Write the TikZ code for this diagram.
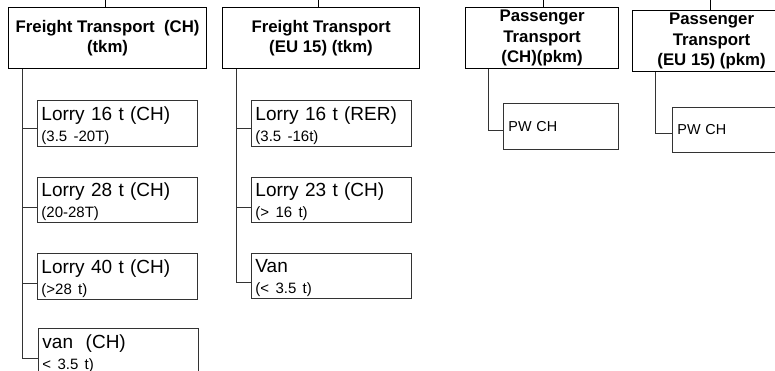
\documentclass[tikz,border=0pt]{standalone}
\usepackage{fontspec}
\setmainfont{Liberation Sans}
\usetikzlibrary{calc}
\tikzset{
  hdr/.style={draw=black, line width=1.1pt, anchor=north west, inner sep=0pt,
    align=center, font=\bfseries\fontsize{16.8}{20.5}\selectfont},
  child/.style={draw=black!80, line width=0.9pt, anchor=north west, inner xsep=4pt, inner ysep=0pt,
    align=left, font=\fontsize{19}{21}\selectfont},
  pw/.style={draw=black!80, line width=0.9pt, anchor=north west, inner xsep=5pt, inner ysep=0pt,
    align=left, font=\fontsize{14.4}{16}\selectfont},
  conn/.style={draw=black!80, line width=0.9pt},
  topl/.style={draw=black, line width=0.9pt}
}
\newcommand{\sm}[1]{{\fontsize{15}{21}\selectfont #1}}
\newcommand{\tp}{\rule{0pt}{17.5pt}}
\begin{document}
\begin{tikzpicture}[x=1pt,y=-1pt]
\useasboundingbox (0,0) rectangle (775,370);
\clip (0,0) rectangle (775,370);
% header boxes
\node[hdr, minimum width=198pt, minimum height=61pt] (A) at (8,7) {Freight Transport\ \ (CH)\\(tkm)};
\node[hdr, minimum width=197pt, minimum height=61pt] (B) at (222,7) {Freight Transport\\(EU 15) (tkm)};
\node[hdr, minimum width=153pt, minimum height=61pt] (C) at (465,7) {Passenger\\Transport\\(CH)(pkm)};
\node[hdr, minimum width=158pt, minimum height=61pt] (D) at (632,10) {Passenger\\Transport\\(EU 15) (pkm)};
% top lines
\coordinate (tA) at (105,0);
\coordinate (tB) at (318,0);
\coordinate (tC) at (543,0);
\coordinate (tD) at (710,0);
\draw[topl] (tA) -- (tA |- A.north);
\draw[topl] (tB) -- (tB |- B.north);
\draw[topl] (tC) -- (tC |- C.north);
\draw[topl] (tD) -- (tD |- D.north);
% children of A
\node[child, minimum width=160pt, minimum height=46pt, text width=152pt] (a1) at (37,100) {\tp Lorry 16 t (CH)\\\sm{(3.5 -20T)}};
\node[child, minimum width=160pt, minimum height=45pt, text width=152pt] (a2) at (37,177) {\tp Lorry 28 t (CH)\\\sm{(20-28T)}};
\node[child, minimum width=160pt, minimum height=46pt, text width=152pt] (a3) at (37,253) {\tp Lorry 40 t (CH)\\\sm{(>28 t)}};
\node[child, minimum width=160pt, minimum height=46pt, text width=152pt] (a4) at (38,328) {\tp van\ \ (CH)\\\sm{< 3.5 t)}};
% children of B
\node[child, minimum width=160pt, minimum height=46pt, text width=152pt] (b1) at (251,100) {\tp Lorry 16 t (RER)\\\sm{(3.5 -16t)}};
\node[child, minimum width=160pt, minimum height=45pt, text width=152pt] (b2) at (251,177) {\tp Lorry 23 t (CH)\\\sm{(> 16 t)}};
\node[child, minimum width=160pt, minimum height=45pt, text width=152pt] (b3) at (251,253) {\tp Van\\\sm{(< 3.5 t)}};
% children of C and D
\node[pw, minimum width=115pt, minimum height=46pt, text width=105pt] (c1) at (503,103) {PW CH};
\node[pw, minimum width=118pt, minimum height=45pt, text width=108pt] (d1) at (672,107) {PW CH};
% connectors
\foreach \p/\c/\f in {A/a1/0.61, A/a2/0.67, A/a3/0.65, A/a4/0.65, B/b1/0.61, B/b2/0.67, B/b3/0.64}{
  \draw[conn] ($(\p.south west)+(14,0)$) |- ($(\c.north west)!\f!(\c.south west)$);
}
\draw[conn] ($(C.south west)+(23,0)$) |- ($(c1.north west)!0.59!(c1.south west)$);
\draw[conn] ($(D.south west)+(23,0)$) |- ($(d1.north west)!0.58!(d1.south west)$);
\end{tikzpicture}
\end{document}
